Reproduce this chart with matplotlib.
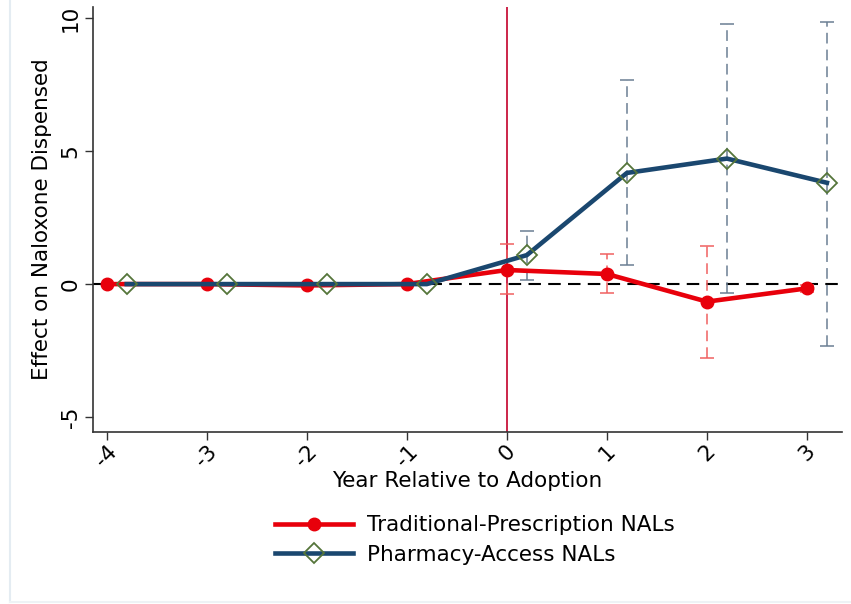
import matplotlib.pyplot as plt
import numpy as np

# event-time estimates, years relative to adoption
years = [-4, -3, -2, -1, 0, 1, 2, 3]

trad_est = [0.0, 0.0, -0.05, 0.0, 0.53, 0.38, -0.66, -0.16]
trad_lo = [0.0, 0.0, -0.05, 0.0, -0.38, -0.35, -2.79, -0.30]
trad_hi = [0.0, 0.0, -0.05, 0.0, 1.50, 1.13, 1.44, -0.02]

pharm_est = [0.0, 0.0, 0.0, 0.0, 1.09, 4.18, 4.72, 3.81]
pharm_lo = [0.0, 0.0, 0.0, 0.0, 0.15, 0.71, -0.33, -2.33]
pharm_hi = [0.0, 0.0, 0.0, 0.0, 2.00, 7.67, 9.77, 9.87]

xtick_labels = ["-4", "-3", "-2", "-1", "0", "1", "2", "3"]

red = "#e8000b"
navy = "#1a476f"
ci_blue = "#6b7f93"
ci_red = "#f06060"
olive = "#55753a"

plt.rcParams["font.family"] = "DejaVu Sans"
fs = 15.5

fig = plt.figure(figsize=(8.51, 6.04), dpi=100)
ax = fig.add_axes([0.1093, 0.2853, 0.8797, 0.7031])

x_t = np.array(years, dtype=float)
x_p = x_t + 0.2

# confidence intervals (dashed with caps)
def ci(x, est, lo, hi, color):
    est = np.array(est)
    err = np.vstack([est - np.array(lo), np.array(hi) - est])
    _, caps, bars = ax.errorbar(x, est, yerr=err, fmt="none", ecolor=color,
                                elinewidth=1.1, capsize=5, capthick=1.1, zorder=2)
    for b in bars:
        b.set_linestyle((0, (7, 4)))

ci(x_t[4:], trad_est[4:], trad_lo[4:], trad_hi[4:], ci_red)
ci(x_p[4:], pharm_est[4:], pharm_lo[4:], pharm_hi[4:], ci_blue)

ax.axhline(0, color="black", lw=1.5, ls=(0, (6, 3.5)), zorder=1)
ax.axvline(0, color="#c8143c", lw=1.3, zorder=1)

ax.plot(x_t, trad_est, color=red, lw=3.3, marker="o", ms=9,
        label="Traditional-Prescription NALs", zorder=3)
ax.plot(x_p, pharm_est, color=navy, lw=3.3, marker="D", ms=10,
        mfc="none", mec=olive, mew=1.3,
        label="Pharmacy-Access NALs", zorder=4)

ax.set_xlim(-4.137, 3.347)
ax.set_ylim(-5.55, 10.42)
ax.set_xticks(years)
ax.set_xticklabels(xtick_labels, rotation=45, ha="center", va="top")
ax.set_yticks([-5, 0, 5, 10])
ax.set_yticklabels(["-5", "0", "5", "10"], rotation=90, va="center")
ax.tick_params(axis="both", labelsize=fs, length=6, width=1.0, color="#333333")
ax.tick_params(axis="x", pad=1)
ax.tick_params(axis="y", pad=3)

for s in ["top", "right"]:
    ax.spines[s].set_visible(False)
for s in ["left", "bottom"]:
    ax.spines[s].set_color("#333333")
    ax.spines[s].set_linewidth(1.2)

ax.set_xlabel("Year Relative to Adoption", fontsize=fs, labelpad=0)
ax.set_ylabel("Effect on Naloxone Dispensed", fontsize=fs, labelpad=6)

ax.legend(loc="upper left", bbox_to_anchor=(0.31, 0.165), bbox_transform=fig.transFigure,
          frameon=False, fontsize=fs, handlelength=3.65, handletextpad=0.65,
          labelspacing=0.45, borderpad=0)

# faint outer frame
fig.add_artist(plt.Line2D([0.012, 0.012], [0.003, 1.0], color="#e4ecf2", lw=1.5))
fig.add_artist(plt.Line2D([0.012, 1.0], [0.003, 0.003], color="#eef2f5", lw=1.5))

fig.savefig("out.png", dpi=100)
